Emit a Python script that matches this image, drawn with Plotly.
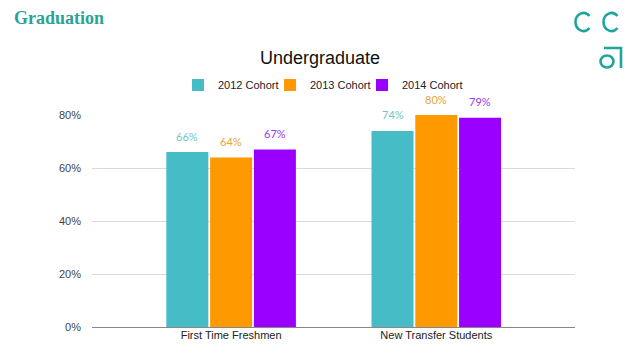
import math
import plotly.graph_objects as go

categories = ["First Time Freshmen", "New Transfer Students"]
series_names = ["2012 Cohort", "2013 Cohort", "2014 Cohort"]
values_2012 = [0.66, 0.74]
values_2013 = [0.64, 0.80]
values_2014 = [0.67, 0.79]
series_values = [values_2012, values_2013, values_2014]
colors = ["#46bdc6", "#ff9900", "#9900ff"]
label_colors = ["#6cc6cc", "#e6a53a", "#9b3ae6"]
y_ticks = [0, 0.2, 0.4, 0.6, 0.8]

W, H = 640, 360
L, R, T, B = 92, 65, 115, 33
pw, ph = W - L - R, H - T - B
BARGAP = 0.36


def px(x):
    return (x - L) / pw


def py(y):
    return (H - B - y) / ph


fig = go.Figure()
for name, vals, c in zip(series_names, series_values, colors):
    fig.add_trace(go.Bar(
        x=categories, y=vals, name=name, marker_color=c,
        marker_line_width=0, hoverinfo="skip",
    ))
# invisible spacer entry so the last legend label is not clipped
fig.add_trace(go.Scatter(x=[None], y=[None], mode="markers", name=" ",
                         marker=dict(color="rgba(0,0,0,0)"), hoverinfo="skip"))

# value labels above each bar
n = len(series_values)
slot = (1 - BARGAP) / n
for k, (vals, lc) in enumerate(zip(series_values, label_colors)):
    for i, v in enumerate(vals):
        fig.add_annotation(x=i + (k - (n - 1) / 2) * slot, y=v, xref="x", yref="y",
                           text=f"{v:.0%}", showarrow=False, yanchor="middle", yshift=16,
                           font=dict(family="Lato, Arial", size=11, color=lc))

teal = "#1ea69c"
fig.update_layout(
    width=W, height=H,
    margin=dict(l=L, r=R, t=T, b=B, autoexpand=False),
    paper_bgcolor="white", plot_bgcolor="white",
    barmode="group", bargap=BARGAP, bargroupgap=0.04,
    title=dict(text="Undergraduate", x=320 / W, xref="container", xanchor="center",
               y=1 - 58 / H, yref="container", yanchor="middle",
               font=dict(family="Arial, Liberation Sans", size=18, color="#111")),
    legend=dict(orientation="h", x=px(178), xanchor="left", y=py(85), yanchor="middle",
                font=dict(family="Arial, Liberation Sans", size=11, color="#222"),
                entrywidth=47, entrywidthmode="pixels", traceorder="normal"),
    font=dict(family="Arial, Liberation Sans"),
    showlegend=True,
)
fig.update_xaxes(range=[-0.678, 1.676], showgrid=False, showline=False, ticks="",
                 tickfont=dict(size=11, color="#222"))
fig.update_yaxes(range=[0, 0.8], tickvals=y_ticks, tickformat=".0%", showgrid=True,
                 gridcolor="#dadada", gridwidth=1, zeroline=True, zerolinecolor="#888",
                 zerolinewidth=1, tickfont=dict(size=11, color="#444"), ticks="",
                 ticklabelstandoff=10)

fig.add_annotation(text="<b>Graduation</b>", xref="paper", yref="paper",
                   x=px(12), y=py(18), xanchor="left", yanchor="middle", showarrow=False,
                   font=dict(family="Liberation Serif", size=18, color="#2aa394"))


def arc_path(cx, cy, rx, ry, a0, a1, segs=4):
    step = (a1 - a0) / segs
    k = 4 / 3 * math.tan(math.radians(step) / 4)
    d = ""
    for s in range(segs):
        t0 = math.radians(a0 + s * step)
        t1 = math.radians(a0 + (s + 1) * step)
        p0 = (cx + rx * math.cos(t0), cy - ry * math.sin(t0))
        p3 = (cx + rx * math.cos(t1), cy - ry * math.sin(t1))
        p1 = (p0[0] - k * rx * math.sin(t0), p0[1] - k * ry * math.cos(t0))
        p2 = (p3[0] + k * rx * math.sin(t1), p3[1] + k * ry * math.cos(t1))
        if s == 0:
            d += f"M {px(p0[0])} {py(p0[1])} "
        d += (f"C {px(p1[0])} {py(p1[1])} {px(p2[0])} {py(p2[1])} "
              f"{px(p3[0])} {py(p3[1])} ")
    return d


for cx in (583.5, 611.5):
    fig.add_shape(type="path", xref="paper", yref="paper",
                  path=arc_path(cx, 22, 8, 9, 42, 318),
                  line=dict(color=teal, width=2.6))
fig.add_shape(type="circle", xref="paper", yref="paper",
              x0=px(600.5), x1=px(613.5), y0=py(55.5), y1=py(67.5),
              line=dict(color=teal, width=2.6))
fig.add_shape(type="path", xref="paper", yref="paper",
              path=f"M {px(604)} {py(48)} L {px(621)} {py(48)} L {px(621)} {py(68)}",
              line=dict(color=teal, width=2.6))

fig.write_html("out.html", config={"displayModeBar": False},
               post_script="document.body.style.margin='0';")
